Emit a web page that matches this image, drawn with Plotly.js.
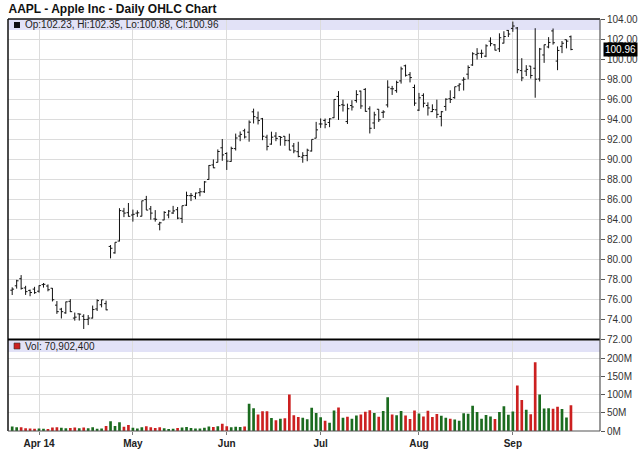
<!DOCTYPE html>
<html>
<head>
<meta charset="utf-8">
<script src="https://cdn.plot.ly/plotly-3.0.1.min.js"></script>
<style>html,body{margin:0;padding:0;background:#fff;}#chart{width:640px;height:468px;}</style>
</head>
<body>
<div id="chart"></div>
<script>
const dates = ['2014-03-24','2014-03-25','2014-03-26','2014-03-27','2014-03-28','2014-03-31',
'2014-04-01','2014-04-02','2014-04-03','2014-04-04','2014-04-07','2014-04-08','2014-04-09','2014-04-10','2014-04-11','2014-04-14','2014-04-15','2014-04-16','2014-04-17','2014-04-21','2014-04-22','2014-04-23','2014-04-24','2014-04-25','2014-04-28','2014-04-29','2014-04-30',
'2014-05-01','2014-05-02','2014-05-05','2014-05-06','2014-05-07','2014-05-08','2014-05-09','2014-05-12','2014-05-13','2014-05-14','2014-05-15','2014-05-16','2014-05-19','2014-05-20','2014-05-21','2014-05-22','2014-05-23','2014-05-27','2014-05-28','2014-05-29','2014-05-30',
'2014-06-02','2014-06-03','2014-06-04','2014-06-05','2014-06-06','2014-06-09','2014-06-10','2014-06-11','2014-06-12','2014-06-13','2014-06-16','2014-06-17','2014-06-18','2014-06-19','2014-06-20','2014-06-23','2014-06-24','2014-06-25','2014-06-26','2014-06-27','2014-06-30',
'2014-07-01','2014-07-02','2014-07-03','2014-07-07','2014-07-08','2014-07-09','2014-07-10','2014-07-11','2014-07-14','2014-07-15','2014-07-16','2014-07-17','2014-07-18','2014-07-21','2014-07-22','2014-07-23','2014-07-24','2014-07-25','2014-07-28','2014-07-29','2014-07-30','2014-07-31',
'2014-08-01','2014-08-04','2014-08-05','2014-08-06','2014-08-07','2014-08-08','2014-08-11','2014-08-12','2014-08-13','2014-08-14','2014-08-15','2014-08-18','2014-08-19','2014-08-20','2014-08-21','2014-08-22','2014-08-25','2014-08-26','2014-08-27','2014-08-28','2014-08-29',
'2014-09-02','2014-09-03','2014-09-04','2014-09-05','2014-09-08','2014-09-09','2014-09-10','2014-09-11','2014-09-12','2014-09-15','2014-09-16','2014-09-17','2014-09-18','2014-09-19'];

const openP = [76.92,77.36,78.07,77.15,76.90,77.03,
76.82,77.48,77.34,77.12,75.43,75.03,74.66,75.81,74.14,74.56,74.32,74.01,74.14,75.05,75.47,75.58,81.29,80.65,81.83,84.82,84.66,
84.43,84.62,84.31,85.97,85.04,84.04,83.51,83.93,84.43,84.63,84.96,84.09,85.41,86.36,86.26,86.66,86.75,87.98,89.43,89.69,91.14,
90.57,89.78,91.06,92.31,92.84,92.70,94.73,94.13,94.04,92.20,91.51,92.31,92.27,92.29,91.85,91.32,90.75,90.21,90.37,90.82,92.10,
93.52,93.87,93.67,94.14,96.27,95.44,93.76,95.36,95.86,96.80,96.97,95.03,93.62,94.99,94.68,95.42,97.04,96.85,97.82,99.33,98.44,97.16,
94.90,96.37,95.36,94.75,94.93,94.26,95.27,96.04,96.15,97.33,97.90,98.49,99.41,100.44,100.57,100.29,101.79,101.42,101.02,101.59,102.86,
103.06,103.10,98.85,98.80,99.30,99.08,98.01,100.41,101.21,102.81,99.80,101.27,101.93,102.23];

const highP = [77.21,77.96,78.43,77.36,76.99,77.26,
77.41,77.64,77.50,77.14,75.84,75.16,75.78,76.03,74.69,74.59,74.52,74.44,75.39,76.02,75.98,75.88,81.43,81.71,85.11,85.14,85.63,
84.97,84.89,85.86,86.34,85.33,84.92,83.75,84.81,84.93,85.34,85.23,85.36,86.76,86.63,86.67,87.12,87.82,89.41,89.98,90.98,92.02,
90.69,91.25,92.56,92.77,93.04,93.88,95.05,94.76,94.12,92.44,92.75,92.70,92.29,92.30,92.55,91.62,91.74,90.70,91.05,91.98,93.73,
94.07,94.06,94.10,95.99,96.80,95.95,95.55,95.89,96.89,96.85,97.10,95.28,94.74,95.00,94.89,97.88,97.32,97.84,99.24,99.44,98.70,97.45,
96.62,96.58,95.68,95.48,95.95,94.82,96.08,96.88,97.24,97.57,98.19,99.37,100.68,101.09,100.94,101.47,102.17,101.50,102.57,102.78,102.90,
103.74,103.20,100.09,99.39,99.31,103.08,101.11,101.44,102.19,103.05,101.26,101.80,101.94,102.35];

const lowP = [76.44,77.08,76.98,76.45,76.32,76.56,
76.68,77.18,76.81,75.80,74.56,74.10,74.57,74.74,73.88,73.89,73.05,73.44,74.10,74.85,75.21,74.92,80.10,80.57,81.79,84.22,84.26,
83.77,84.24,84.29,84.92,83.96,83.77,82.90,83.91,84.10,84.53,84.01,83.63,85.33,85.82,86.01,86.30,86.64,87.95,89.11,89.68,89.84,
88.93,89.75,90.87,91.80,92.07,91.75,93.57,93.47,91.90,90.88,91.45,91.80,91.35,91.34,90.90,90.60,90.19,89.65,89.80,90.77,92.09,
93.13,93.09,93.20,94.10,93.92,94.76,93.52,94.86,95.65,95.03,94.74,92.57,93.02,93.72,94.12,95.17,96.42,96.64,97.55,98.25,97.67,95.33,
94.81,95.17,94.36,94.71,94.10,93.28,94.84,95.61,96.04,96.80,96.86,97.98,99.32,99.95,100.11,100.19,101.28,100.86,100.70,101.56,102.20,
102.72,98.58,97.79,98.31,98.05,96.14,97.76,99.62,101.08,101.44,98.89,100.59,101.07,100.88];

const closeP = [77.03,77.86,77.11,76.78,76.69,76.68,
77.38,77.51,76.97,75.97,74.78,74.78,75.76,74.78,74.23,74.53,74.00,74.14,74.99,75.88,75.96,74.96,81.11,81.71,84.87,84.62,84.30,
84.50,84.65,85.85,84.92,84.62,84.00,83.65,84.69,84.82,84.84,84.12,85.36,86.37,86.39,86.62,86.75,87.73,89.38,89.14,90.77,90.43,
89.81,91.08,92.12,92.48,92.22,93.70,94.25,93.86,92.29,91.28,92.20,92.08,92.18,91.86,90.91,90.83,90.28,90.36,90.90,91.98,92.93,
93.52,93.48,94.03,95.97,95.35,95.39,95.04,95.22,96.45,95.32,94.78,93.09,94.43,93.94,94.72,97.19,97.03,97.67,99.02,98.38,98.15,95.60,
96.13,95.59,95.12,94.96,94.48,94.74,95.99,95.97,97.24,97.50,97.98,99.16,100.53,100.57,100.58,101.32,101.54,100.89,102.13,102.25,102.50,
103.30,98.94,98.12,98.97,98.36,97.99,101.00,101.43,101.66,101.63,100.86,101.58,101.79,100.96];

const prevClose = 76.12; // close of the session before the first bar

const volume = [12700000,10090000,10700000,7940000,7160000,6030000,
7170000,6440000,5800000,9830000,10350000,8710000,7350000,8560000,9700000,7350000,9510000,7670000,10160000,6530000,7230000,14100000,27130000,13940000,23910000,12040000,16310000,
8710000,6840000,10260000,13370000,10100000,8230000,10410000,7610000,5700000,5940000,8240000,9870000,11340000,8390000,7030000,7170000,8700000,12460000,11270000,13440000,20140000,
13190000,10460000,11990000,10840000,12500000,75400000,62800000,45700000,54700000,54500000,35600000,29700000,33500000,35500000,100900000,43700000,39000000,36900000,32600000,64000000,49600000,
38200000,28400000,22900000,56500000,65200000,36400000,39700000,34000000,42800000,45500000,53400000,57300000,49900000,39100000,55200000,92900000,45700000,43500000,55300000,43100000,33000000,56800000,
48500000,39900000,55900000,38600000,46700000,41900000,36600000,33800000,31900000,28100000,48900000,47600000,69600000,52700000,33500000,44200000,40300000,33200000,52400000,68500000,44600000,
53600000,125400000,85700000,58500000,46400000,189600000,100900000,62400000,62900000,61300000,66800000,60900000,37300000,70902400];

const monthTickDates = ['2014-04-01','2014-05-01','2014-06-02','2014-07-01','2014-08-01','2014-09-02'];
const monthTickLabels = ['Apr 14','May','Jun','Jul','Aug','Sep'];
const priceTicks = [72,74,76,78,80,82,84,86,88,90,92,94,96,98,100,102,104];
const volTickVals = [0,50e6,100e6,150e6,200e6];
const volTickLabels = ['0M','50M','100M','150M','200M'];

// ---- geometry helpers (pixel -> paper) ----
const L = 8, R = 600, T = 19, B = 431;
const W = R - L, H = B - T;
const px = x => (x - L) / W;
const py = y => (B - y) / H;

const FONT = 'Liberation Sans, Arial, Helvetica, sans-serif';
const UP = '#1b6b1f', DOWN = '#cc2020';

const volColors = volume.map((v, i) => {
  const pc = i === 0 ? prevClose : closeP[i - 1];
  return closeP[i] >= pc ? UP : DOWN;
});

const n = dates.length;
const last = n - 1;
const fmt2 = v => v.toFixed(2);
const headerText = 'Op:' + fmt2(openP[last]) + ', Hi:' + fmt2(highP[last]) + ', Lo:' + fmt2(lowP[last]) + ', Cl:' + fmt2(closeP[last]);
const volText = 'Vol: ' + volume[last].toLocaleString('en-US');

const traces = [
  {
    type: 'ohlc', x: dates, open: openP, high: highP, low: lowP, close: closeP,
    xaxis: 'x', yaxis: 'y',
    increasing: {line: {color: '#111', width: 1}},
    decreasing: {line: {color: '#111', width: 1}},
    tickwidth: 0.42, hoverinfo: 'skip', showlegend: false
  },
  {
    type: 'bar', x: dates, y: volume, xaxis: 'x', yaxis: 'y2',
    marker: {color: volColors, line: {width: 0}},
    hoverinfo: 'skip', showlegend: false
  }
];

const priceBottom = py(339.5);
const volTop = py(340.5);

const layout = {
  width: 640, height: 468,
  margin: {l: L, r: 640 - R, t: T, b: 468 - B, pad: 0},
  paper_bgcolor: '#fff', plot_bgcolor: '#fff',
  bargap: 0.4,
  showlegend: false,
  font: {family: FONT, size: 10, color: '#333'},
  title: {
    text: 'AAPL - Apple Inc - Daily OHLC Chart',
    x: 8.5 / 640, xanchor: 'left', xref: 'container',
    y: 1 - 8.5 / 468, yanchor: 'middle', yref: 'container',
    font: {family: FONT, size: 12, weight: 'bold', color: '#111'}
  },
  xaxis: {
    type: 'category', anchor: 'y2',
    range: [-0.94, 131.5],
    tickmode: 'array', tickvals: monthTickDates, ticktext: monthTickLabels,
    showgrid: true, gridcolor: '#dcdcdc', gridwidth: 1,
    ticks: 'outside', ticklen: 3, tickcolor: '#777',
    tickfont: {family: FONT, size: 10, weight: 'bold', color: '#222'},
    showline: false, zeroline: false,
    rangeslider: {visible: false}, fixedrange: true
  },
  yaxis: {
    domain: [priceBottom, 1], anchor: 'x', side: 'right',
    range: [72, 104], tickmode: 'array', tickvals: priceTicks,
    ticktext: priceTicks.map(fmt2),
    showgrid: true, gridcolor: '#dcdcdc', gridwidth: 1,
    ticks: 'outside', ticklen: 4, tickcolor: '#555',
    tickfont: {family: FONT, size: 10, color: '#333'},
    zeroline: false, showline: false, fixedrange: true
  },
  yaxis2: {
    domain: [0, volTop], anchor: 'x', side: 'right',
    range: [0, 250e6], tickmode: 'array', tickvals: volTickVals, ticktext: volTickLabels,
    showgrid: true, gridcolor: '#dcdcdc', gridwidth: 1,
    ticks: 'outside', ticklen: 4, tickcolor: '#555',
    tickfont: {family: FONT, size: 10, color: '#333'},
    zeroline: false, showline: false, fixedrange: true
  },
  shapes: [
    // header bands
    {type: 'rect', xref: 'paper', yref: 'paper', x0: 0, x1: 1, y0: py(30), y1: py(T), fillcolor: '#e2e2f7', line: {width: 0}, layer: 'between'},
    {type: 'rect', xref: 'paper', yref: 'paper', x0: 0, x1: 1, y0: py(352), y1: py(340.5), fillcolor: '#e2e2f7', line: {width: 0}, layer: 'between'},
    // legend squares
    {type: 'rect', xref: 'paper', yref: 'paper', x0: px(14), x1: px(20), y0: py(28), y1: py(22), fillcolor: '#111', line: {width: 0}},
    {type: 'rect', xref: 'paper', yref: 'paper', x0: px(14), x1: px(20), y0: py(349), y1: py(343), fillcolor: '#cc2020', line: {width: 0.6, color: '#333'}},
    // frame
    {type: 'line', xref: 'paper', yref: 'paper', x0: 0, x1: 1, y0: py(T), y1: py(T), line: {color: '#111', width: 1.5}},
    {type: 'line', xref: 'paper', yref: 'paper', x0: 0, x1: 0, y0: 0, y1: 1, line: {color: '#111', width: 1.5}},
    {type: 'line', xref: 'paper', yref: 'paper', x0: 0, x1: 1, y0: py(339.5), y1: py(339.5), line: {color: '#000', width: 2}},
    {type: 'line', xref: 'paper', yref: 'paper', x0: 0, x1: 1, y0: 0, y1: 0, line: {color: '#555', width: 1.2}},
    {type: 'line', xref: 'paper', yref: 'paper', x0: 1, x1: 1, y0: 0, y1: 1, line: {color: '#555', width: 1.2}}
  ],
  annotations: [
    {xref: 'paper', yref: 'paper', x: px(22.5), y: py(25), xanchor: 'left', yanchor: 'middle', showarrow: false,
     text: headerText, font: {family: FONT, size: 10, color: '#222'}},
    {xref: 'paper', yref: 'paper', x: px(22.5), y: py(346.5), xanchor: 'left', yanchor: 'middle', showarrow: false,
     text: volText, font: {family: FONT, size: 10, color: '#222'}},
    {xref: 'paper', yref: 'y', x: px(603), y: closeP[last], xanchor: 'left', yanchor: 'middle', showarrow: false,
     text: fmt2(closeP[last]), bgcolor: '#000', borderpad: 1, font: {family: FONT, size: 10, color: '#fff'}}
  ]
};

Plotly.newPlot('chart', traces, layout, {displayModeBar: false, staticPlot: true});
</script>
</body>
</html>
